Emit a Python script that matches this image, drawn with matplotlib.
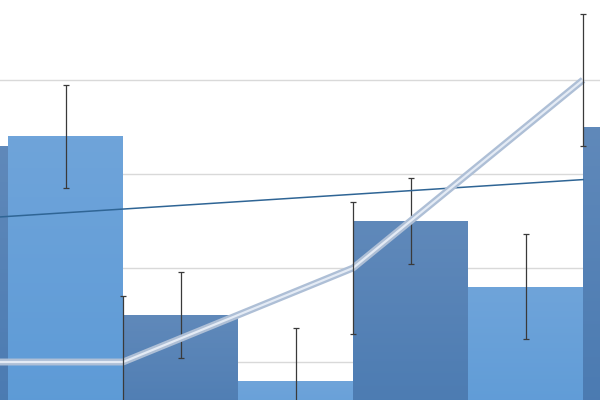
import numpy as np
import matplotlib
matplotlib.use("Agg")
import matplotlib.pyplot as plt

# bars (one per category, alternating colours)
bar_x = [0, 1, 2, 3, 4, 5, 6]
bar_val = [33, 34, 15, 8, 25, 18, 35]
bar_err = [4.6, 5.5, 4.6, 5.6, 4.6, 5.6, 4.6]

# line series, sits on the bar boundaries
line_x = [-0.5, 1.5, 3.5, 5.5]
line_val = [10, 10, 20, 40]
line_err = [7, 7, 7, 7]

# trend line end points
trend_x = [-0.5, 5.5]
trend_val = [24.7, 29.4]

light = ("#6fa4da", "#5a99d6")
dark = ("#6089ba", "#4778b0")

fig = plt.figure(figsize=(6, 4), dpi=100)
ax = fig.add_axes([0, 0, 1, 1])
ax.set_xlim(0.43, 0.43 + 600 / 115)
ax.set_ylim(5.96, 48.5)
ax.axis("off")

# grid
for g in [10, 20, 30, 40]:
    ax.axhline(g, color="#d9d9d9", lw=1, zorder=0)

# bars with a soft vertical gradient
bars = ax.bar(bar_x, bar_val, width=1.0, color="none", zorder=1)
for i, b in enumerate(bars):
    top, bot = light if i % 2 == 1 else dark
    c1 = np.array(matplotlib.colors.to_rgb(top))
    c2 = np.array(matplotlib.colors.to_rgb(bot))
    t = np.linspace(0, 1, 100)[:, None]
    img = (c1 * (1 - t) + c2 * t)[:, None, :]
    x0 = b.get_x()
    im = ax.imshow(img, extent=[x0, x0 + b.get_width(), 0, b.get_height()],
                   aspect="auto", origin="upper", zorder=1)
    im.set_clip_path(b)
ax.set_xlim(0.43, 0.43 + 600 / 115)
ax.set_ylim(5.96, 48.5)

ax.errorbar(bar_x, bar_val, yerr=bar_err, fmt="none", ecolor="#3a3a3a",
            elinewidth=0.9, capsize=2, capthick=0.9, zorder=3)

# trend line
ax.plot(trend_x, trend_val, color="#2f6595", lw=1.1, zorder=4)

# line with glow
ax.plot(line_x, line_val, color="#aebfd6", lw=5, solid_capstyle="butt", zorder=5)
ax.plot(line_x, line_val, color="#e4ebf5", lw=1.6, zorder=6)
ax.errorbar(line_x, line_val, yerr=line_err, fmt="none", ecolor="#3a3a3a",
            elinewidth=0.9, capsize=2, capthick=0.9, zorder=7)

fig.savefig("out.png", dpi=100)
